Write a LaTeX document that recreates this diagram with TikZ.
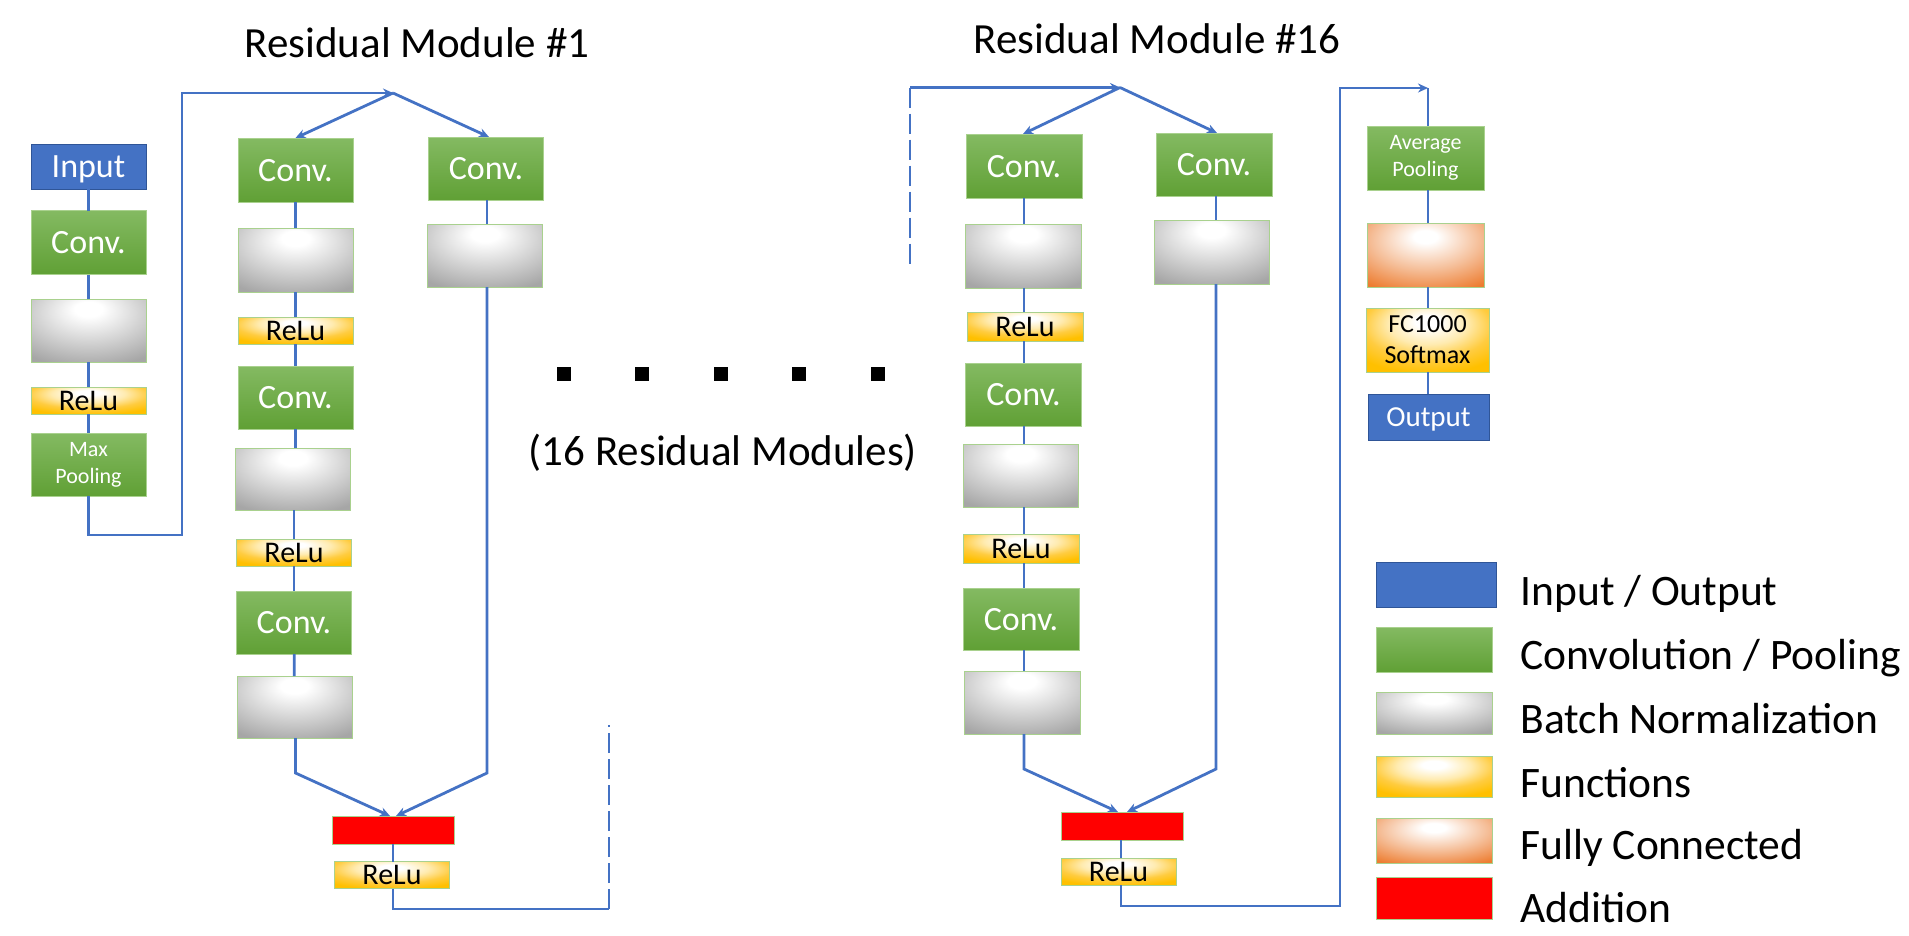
\documentclass[tikz,border=0pt]{standalone}
\usepackage{fontspec}
\setmainfont{Carlito}
\usetikzlibrary{arrows.meta}
\definecolor{ioblue}{HTML}{4472C4}
\definecolor{ioborder}{HTML}{2F5597}
\definecolor{lineblue}{HTML}{4472C4}
\definecolor{gtop}{HTML}{84BA62}
\definecolor{gbot}{HTML}{60A035}
\definecolor{gborder}{HTML}{A9D18E}
\definecolor{bgray}{HTML}{A6A6A6}
\definecolor{ylight}{HTML}{FFEBB0}
\definecolor{ymid}{HTML}{FFCC40}
\definecolor{yout}{HTML}{FFC000}
\definecolor{omid}{HTML}{F5BE98}
\definecolor{oout}{HTML}{ED7D31}
\definecolor{addred}{HTML}{FF0000}
\pgfdeclareradialshading{grayglow}{\pgfpoint{0bp}{18bp}}{color(0bp)=(white); color(6bp)=(white); color(40bp)=(bgray); color(100bp)=(bgray)}
\pgfdeclareradialshading{yellowglow}{\pgfpoint{0bp}{15bp}}{color(0bp)=(white); color(5bp)=(white); color(16bp)=(ylight); color(26bp)=(ymid); color(36bp)=(yout); color(100bp)=(yout)}
\pgfdeclareradialshading{orangeglow}{\pgfpoint{0bp}{15bp}}{color(0bp)=(white); color(5bp)=(white); color(23bp)=(omid); color(40bp)=(oout); color(100bp)=(oout)}
\tikzset{
  blk/.style={minimum width=115pt, inner sep=0pt, outer sep=0pt, align=center, line width=1pt},
  iobox/.style={blk, fill=ioblue, draw=ioborder, text=white, minimum height=45pt},
  convbox/.style={blk, top color=gtop, bottom color=gbot, draw=gborder, text=white, minimum height=64pt},
  bnbox/.style={blk, shading=grayglow, draw=gborder, minimum height=63pt},
  relubox/.style={blk, text height=19.5pt, text depth=0pt, shading=yellowglow, draw=gborder, minimum height=27pt, font=\fontsize{30}{32}\selectfont},
  fcbox/.style={blk, shading=orangeglow, draw=gborder, minimum height=64pt},
  addbox/.style={blk, fill=addred, draw=gborder, minimum width=122pt, minimum height=28pt},
  bigf/.style={font=\fontsize{34}{36}\selectfont, text height=22pt, text depth=0pt},
  smallf/.style={font=\fontsize{22}{27}\selectfont},
  wire/.style={draw=lineblue, line width=2.8pt},
  arr/.style={wire, -{Stealth[length=10pt,width=9pt]}},
  dwire/.style={wire, dash pattern=on 20pt off 6pt},
  dotsq/.style={fill=black, minimum size=14pt, inner sep=0pt},
  title/.style={anchor=base, font=\fontsize{43}{46}\selectfont},
  legtext/.style={anchor=base west, font=\fontsize{43.5}{46}\selectfont},
}
\begin{document}
\begin{tikzpicture}[x=1pt,y=-1pt]
\useasboundingbox (0,0) rectangle (1909,935);

% titles
\node[title] (t1) at (417,57) {Residual Module \#1};
\node[title] (t16) at (1157,53) {Residual Module \#16};

% stem
\node[iobox, bigf] (input) at (88.5,166.5) {Input};
\node[convbox, bigf] (conv0) at (88.5,242.5) {Conv.};
\node[bnbox] (bn0) at (88.5,330.5) {};
\node[relubox] (relu0) at (88.5,400.5) {ReLu};
\node[convbox, smallf, minimum height=63pt] (pool0) at (88.5,464.5) {Max\\Pooling};
\draw[wire] (input) -- (conv0);
\draw[wire] (conv0) -- (bn0);
\draw[wire] (bn0) -- (relu0);
\draw[wire] (relu0) -- (pool0);

% module 1
\coordinate (j1) at (393,93);
\coordinate (k1) at (88.5,535);
\coordinate (k2) at (182,535);
\coordinate (k3) at (182,93);
\draw[arr] (pool0.south) -- (k1) -- (k2) -- (k3) -- (j1);

\node[convbox, bigf] (c1a) at (295.5,170) {Conv.};
\node[bnbox, minimum height=64pt] (b1a) at (295.5,260) {};
\node[relubox] (r1a) at (295.5,330.5) {ReLu};
\node[convbox, bigf, minimum height=63pt] (c1b) at (295.5,397.5) {Conv.};
\node[bnbox, minimum height=62pt] (b1b) at (293,479) {};
\node[relubox] (r1b) at (294,552.5) {ReLu};
\node[convbox, bigf, minimum height=63pt] (c1c) at (294,622.5) {Conv.};
\node[bnbox, minimum height=62pt] (b1c) at (294.5,707) {};
\node[convbox, bigf, minimum height=63pt] (c1r) at (486,168.5) {Conv.};
\node[bnbox, minimum height=63pt] (b1r) at (485,255.5) {};
\node[addbox] (add1) at (393,830) {};
\node[relubox] (r1c) at (392,875) {ReLu};

\draw[arr] (j1) -- (c1a.north);
\draw[arr] (j1) -- ([xshift=3pt]c1r.north);
\draw[wire] (c1a) -- (b1a);
\draw[wire] (b1a.south) -- (r1a.north);
\draw[wire] (r1a.south) -- (r1a.south |- c1b.north);
\draw[wire] (c1b.south) -- (c1b.south |- b1b.north);
\draw[wire] (b1b.south -| r1b.north) -- (r1b.north);
\draw[wire] (r1b) -- (c1c);
\draw[wire] (c1c) -- (b1c);
\draw[wire] (c1r.south -| 487,0) -- (b1r.north -| 487,0);
\coordinate (m1l) at (295.5,773);
\coordinate (m1r) at (487,773);
\draw[arr] (b1c.south -| m1l) -- (m1l) -- ([xshift=-3pt]add1.north);
\draw[arr] (b1r.south -| m1r) -- (m1r) -- ([xshift=3pt]add1.north);
\draw[wire] (add1) -- (add1 |- r1c.north);
\coordinate (e1) at (393,909);
\coordinate (e2) at (609,909);
\coordinate (e3) at (609,725);
\draw[wire] (r1c.south -| e1) -- (e1) -- (e2);
\draw[dwire] (e2) -- (e3);

% ellipsis
\node[dotsq] (d1) at (564,374) {};
\node[dotsq] (d2) at (642,374) {};
\node[dotsq] (d3) at (721,374) {};
\node[dotsq] (d4) at (799,374) {};
\node[dotsq] (d5) at (878,374) {};
\node[title] (note) at (723,465) {(16 Residual Modules)};

% module 16
\coordinate (s1) at (910,269);
\coordinate (s2) at (910,87.5);
\coordinate (j2) at (1120,87.5);
\draw[dwire] (s2) -- (s1);
\draw[arr] (s2) -- (j2);

\node[convbox, bigf, minimum width=116pt] (c16a) at (1024,166) {Conv.};
\node[bnbox, minimum width=116pt, minimum height=64pt] (b16a) at (1023.5,256) {};
\node[relubox, minimum width=116pt, minimum height=29pt] (r16a) at (1025,326.5) {ReLu};
\node[convbox, bigf, minimum width=116pt, minimum height=63pt] (c16b) at (1023.5,394.5) {Conv.};
\node[bnbox, minimum width=115pt] (b16b) at (1020.5,475.5) {};
\node[relubox, minimum width=116pt, minimum height=29pt] (r16b) at (1021,548.5) {ReLu};
\node[convbox, bigf, minimum width=116pt, minimum height=62pt] (c16c) at (1021,619) {Conv.};
\node[bnbox, minimum width=116pt] (b16c) at (1022,702.5) {};
\node[convbox, bigf, minimum width=116pt, minimum height=63pt] (c16r) at (1214,164.5) {Conv.};
\node[bnbox, minimum width=115pt, minimum height=64pt] (b16r) at (1211.5,252) {};
\node[addbox] (add16) at (1122,826) {};
\node[relubox] (r16c) at (1118.5,871.5) {ReLu};

\draw[arr] (j2) -- ([xshift=-1pt]c16a.north);
\draw[arr] (j2) -- ([xshift=3pt]c16r.north);
\coordinate (col16) at (1024,0);
\coordinate (col16r) at (1216,0);
\draw[wire] (c16a.south -| col16) -- (b16a.north -| col16);
\draw[wire] (b16a.south -| col16) -- (r16a.north -| col16);
\draw[wire] (r16a.south -| col16) -- (c16b.north -| col16);
\draw[wire] (c16b.south -| col16) -- (b16b.north -| col16);
\draw[wire] (b16b.south -| col16) -- (r16b.north -| col16);
\draw[wire] (r16b.south -| col16) -- (c16c.north -| col16);
\draw[wire] (c16c.south -| col16) -- (b16c.north -| col16);
\draw[wire] (c16r.south -| col16r) -- (b16r.north -| col16r);
\coordinate (m2l) at (1024,769);
\coordinate (m2r) at (1216,769);
\draw[arr] (b16c.south -| m2l) -- (m2l) -- ([xshift=-4pt]add16.north);
\draw[arr] (b16r.south -| m2r) -- (m2r) -- ([xshift=5pt]add16.north);
\coordinate (f1) at (1121,906);
\coordinate (f2) at (1340,906);
\coordinate (f3) at (1340,88);
\coordinate (f4) at (1428,88);
\draw[wire] (add16.south -| f1) -- (r16c.north -| f1);
\draw[arr] (r16c.south -| f1) -- (f1) -- (f2) -- (f3) -- (f4);

% head
\node[convbox, smallf, minimum width=117pt] (avg) at (1425.5,158) {Average\\Pooling};
\node[fcbox, minimum width=117pt] (fc) at (1425.5,255) {};
\node[blk, shading=yellowglow, draw=gborder, minimum width=123pt, minimum height=64pt, font=\fontsize{26}{31}\selectfont] (sm) at (1427.5,340) {FC1000\\Softmax};
\node[iobox, minimum width=121pt, minimum height=46pt, font=\fontsize{29}{31}\selectfont, text height=19pt, text depth=0pt] (out) at (1428.5,417) {Output};
\draw[wire] (f4) -- (f4 |- avg.north);
\draw[wire] (avg.south -| f4) -- (fc.north -| f4);
\draw[wire] (fc.south -| f4) -- (sm.north -| f4);
\draw[wire] (sm.south -| f4) -- (out.north -| f4);

% legend
\node[iobox, minimum width=120pt, minimum height=45pt] (l1) at (1436,584.5) {};
\node[convbox, minimum width=116pt, minimum height=45pt] (l2) at (1434,649.5) {};
\node[bnbox, minimum width=116pt, minimum height=42pt] (l3) at (1434,713) {};
\node[blk, shading=yellowglow, draw=gborder, minimum width=116pt, minimum height=41pt] (l4) at (1434,776.5) {};
\node[fcbox, minimum width=116pt, minimum height=45pt] (l5) at (1434,840.5) {};
\node[addbox, minimum width=116pt, minimum height=42pt] (l6) at (1434,898) {};
\node[legtext] (lt1) at (1517,605) {Input / Output};
\node[legtext] (lt2) at (1517,669) {Convolution / Pooling};
\node[legtext] (lt3) at (1517,733) {Batch Normalization};
\node[legtext] (lt4) at (1517,797) {Functions};
\node[legtext] (lt5) at (1517,859) {Fully Connected};
\node[legtext] (lt6) at (1517,922) {Addition};
\end{tikzpicture}
\end{document}
